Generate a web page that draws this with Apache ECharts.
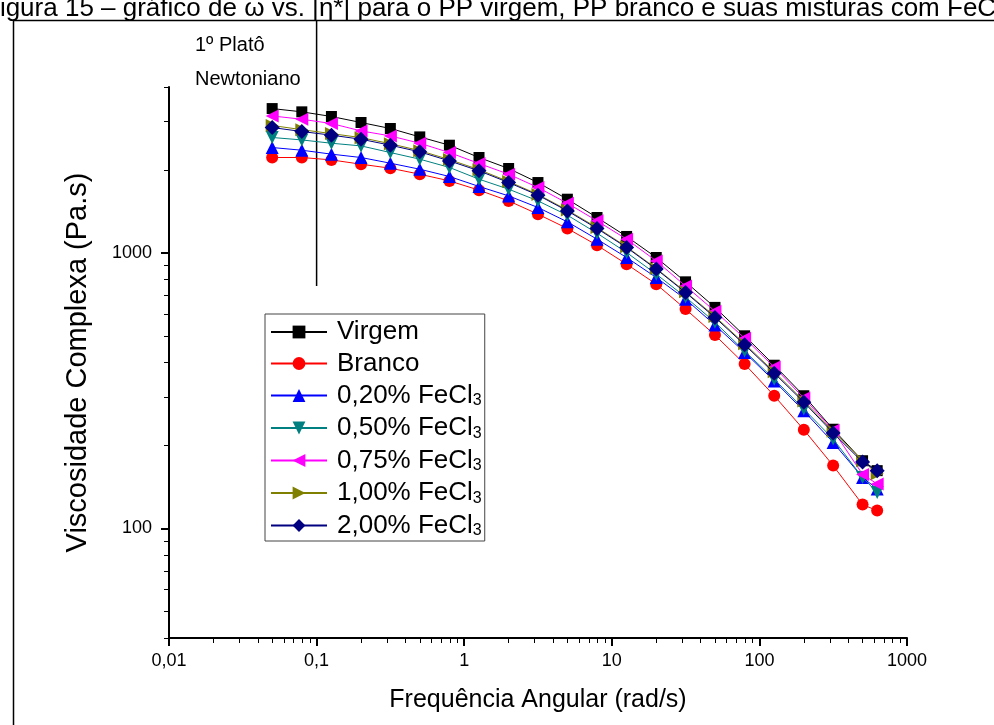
<!DOCTYPE html>
<html><head><meta charset="utf-8">
<script src="https://cdn.jsdelivr.net/npm/echarts@6/dist/echarts.min.js"></script>
<style>html,body{margin:0;padding:0;background:#fff;overflow:hidden}#c{width:994px;height:725px}</style>
</head><body><div id="c"></div>
<script>
// ---- data ----
const freq = [0.05, 0.0794, 0.126, 0.2, 0.316, 0.5, 0.794, 1.26, 2, 3.16, 5, 7.94, 12.6, 20, 31.6, 50, 79.4, 126, 200, 316, 500, 628];
const virgem = [3340, 3250, 3126, 2973, 2828, 2636, 2459, 2219, 2024, 1800, 1566, 1344, 1147, 962, 785, 634, 500, 391, 303, 229, 176, 162];
const branco = [2219, 2219, 2175, 2098, 2029, 1930, 1825, 1689, 1544, 1382, 1226, 1066, 910, 770, 625, 503, 395, 303, 228, 169, 122, 116];
const fe020 = [2412, 2358, 2282, 2219, 2116, 2012, 1893, 1742, 1610, 1461, 1296, 1121, 962, 814, 679, 547, 435, 343, 267, 205, 153, 139];
const fe050 = [2623, 2570, 2500, 2445, 2313, 2188, 2042, 1851, 1703, 1544, 1370, 1179, 1003, 837, 691, 560, 440, 348, 271, 211, 153, 135];
const fe075 = [3141, 3055, 2948, 2771, 2658, 2500, 2313, 2111, 1930, 1727, 1514, 1307, 1121, 935, 758, 614, 490, 385, 297, 227, 157, 145];
const fe100 = [2900, 2800, 2710, 2620, 2490, 2350, 2180, 2005, 1815, 1630, 1430, 1235, 1052, 878, 722, 588, 468, 370, 290, 225, 176, 158];
const fe200 = [2851, 2757, 2674, 2585, 2459, 2326, 2157, 1985, 1800, 1620, 1420, 1226, 1046, 873, 718, 583, 464, 366, 287, 222, 174, 162];
const seriesNames = ['Virgem', 'Branco', '0,20% FeCl3', '0,50% FeCl3', '0,75% FeCl3', '1,00% FeCl3', '2,00% FeCl3'];
const xTickLabels = [0.01, 0.1, 1, 10, 100, 1000];
const yTickLabels = [100, 1000];
const titleText = 'Figura 15 – gráfico de ω vs. |η*| para o PP virgem, PP branco e suas misturas com FeCl3';
const xTitle = 'Frequência Angular (rad/s)';
const yTitle = 'Viscosidade Complexa (Pa.s)';

// ---- styles ----
const colors = ['#000000', '#ff0000', '#0000ff', '#008080', '#ff00ff', '#808000', '#000080'];
const symbols = ['rect', 'circle', 'triangle', 'path://M0,0L10,0L5,9Z', 'path://M9,0L9,10L0,5Z', 'path://M0,0L9,5L0,10Z', 'diamond'];
const sizes = [11, 12, 13, 13, 13, 13, 15];
const values = [virgem, branco, fe020, fe050, fe075, fe100, fe200];
const FONT = 'Liberation Sans, Arial, sans-serif';

function minorTicks(lo, hi) {
  const out = [];
  for (let e = Math.floor(Math.log10(lo)); e <= Math.ceil(Math.log10(hi)); e++) {
    for (let m = 2; m <= 9; m++) {
      const v = m * Math.pow(10, e);
      if (v >= lo - 1e-9 && v <= hi + 1e-9) out.push(v);
    }
  }
  return out;
}
const fmt = v => String(Number(v.toPrecision(4))).replace('.', ',');

const chart = echarts.init(document.getElementById('c'), null, {renderer: 'canvas'});
const grid = {left: 169, right: 87, top: 87, bottom: 87};

const series = values.map((vals, i) => ({
  name: seriesNames[i],
  type: 'line',
  xAxisIndex: 0, yAxisIndex: 0,
  data: freq.map((f, j) => [f, vals[j]]),
  symbol: symbols[i],
  symbolSize: sizes[i],
  showAllSymbol: true,
  itemStyle: {color: colors[i]},
  lineStyle: {color: colors[i], width: 1},
  z: 2 + i,
  animation: false
}));

chart.setOption({
  animation: false,
  textStyle: {fontFamily: FONT},
  grid: grid,
  xAxis: [{
    type: 'log', logBase: 10, min: 0.01, max: 1000,
    name: xTitle, nameLocation: 'middle', nameGap: 50,
    nameTextStyle: {fontSize: 25, color: '#000', fontFamily: FONT},
    axisLine: {lineStyle: {color: '#000', width: 2}},
    axisTick: {show: true, inside: false, length: 8, lineStyle: {color: '#000', width: 2}, customValues: xTickLabels},
    axisLabel: {fontSize: 18, color: '#000', margin: 14, fontFamily: FONT, customValues: xTickLabels, formatter: fmt},
    splitLine: {show: false}
  }, {
    type: 'log', logBase: 10, min: 0.01, max: 1000, position: 'bottom', gridIndex: 0,
    axisLine: {show: false},
    axisTick: {show: true, inside: false, length: 5, lineStyle: {color: '#000', width: 1}, customValues: minorTicks(0.01, 1000)},
    axisLabel: {show: false}, splitLine: {show: false}
  }],
  yAxis: [{
    type: 'log', logBase: 10, min: 40, max: 4000,
    name: yTitle, nameLocation: 'middle', nameGap: 77,
    nameTextStyle: {fontSize: 29, color: '#000', fontFamily: FONT},
    axisLine: {lineStyle: {color: '#000', width: 2}},
    axisTick: {show: true, inside: false, length: 8, lineStyle: {color: '#000', width: 2}, customValues: yTickLabels},
    axisLabel: {fontSize: 18, color: '#000', margin: 17, fontFamily: FONT, customValues: yTickLabels, formatter: fmt},
    splitLine: {show: false}
  }, {
    type: 'log', logBase: 10, min: 40, max: 4000, position: 'left', gridIndex: 0,
    axisLine: {show: false},
    axisTick: {show: true, inside: false, length: 5, lineStyle: {color: '#000', width: 1}, customValues: minorTicks(40, 4000)},
    axisLabel: {show: false}, splitLine: {show: false}
  }],
  legend: {
    orient: 'vertical', left: 265, top: 314,
    itemWidth: 56, itemHeight: 16, itemGap: 5.5,
    padding: [5, 3, 2, 5],
    borderColor: '#444', borderWidth: 1, backgroundColor: '#fff',
    data: seriesNames,
    formatter: n => /3$/.test(n) ? '{n|' + n.slice(0, -1) + '}{s|3}' : '{n|' + n + '}',
    textStyle: {
      color: '#000', fontFamily: FONT, padding: [0, 0, 0, 5],
      rich: {
        n: {fontSize: 26, lineHeight: 30, fontFamily: FONT, color: '#000'},
        s: {fontSize: 16, lineHeight: 30, fontFamily: FONT, color: '#000', padding: [11, 0, 0, 0]}
      }
    }
  },
  series: series
});

const px = chart.convertToPixel({xAxisIndex: 0}, 0.1);
chart.setOption({
  graphic: [
    {type: 'line', shape: {x1: 13.5, y1: 20, x2: 13.5, y2: 725}, style: {stroke: '#000', lineWidth: 1.5}, silent: true},
    {type: 'line', shape: {x1: 13, y1: 20.5, x2: 994, y2: 20.5}, style: {stroke: '#000', lineWidth: 1.5}, silent: true},
    {type: 'line', shape: {x1: px, y1: 20, x2: px, y2: 286}, style: {stroke: '#000', lineWidth: 1.5}, silent: true},
    {type: 'text', left: 195, top: 35, style: {text: '1º Platô', font: '20px ' + FONT, fill: '#000'}, silent: true},
    {type: 'text', left: 195, top: 69, style: {text: 'Newtoniano', font: '20px ' + FONT, fill: '#000'}, silent: true},
    {type: 'text', x: -16, y: -4, style: {text: titleText, font: '26px ' + FONT, fill: '#000'}, silent: true}
  ]
});
</script></body></html>
